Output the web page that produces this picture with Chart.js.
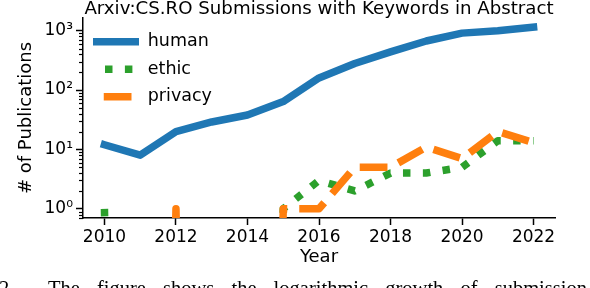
<!DOCTYPE html>
<html>
<head>
<meta charset="utf-8">
<script src="https://cdn.jsdelivr.net/npm/chart.js@4.4.1/dist/chart.umd.min.js"></script>
<style>
  body { margin: 0; background: #fff; }
  #wrap { position: relative; width: 590px; height: 288px; overflow: hidden; }
  .caption {
    position: absolute; top: 278px; white-space: nowrap;
    font-family: "Liberation Serif", serif; font-size: 20.5px; line-height: 20px;
    word-spacing: 12px; color: #000;
  }
</style>
</head>
<body>
<div id="wrap">
  <canvas id="mycanvas" width="590" height="288"></canvas>
  <div class="caption" style="left:-1px">2.</div>
  <div class="caption" style="left:48px">The figure shows the logarithmic growth of submission</div>
</div>
<script>
var years = [2010, 2011, 2012, 2013, 2014, 2015, 2016, 2017, 2018, 2019, 2020, 2021, 2022];
var human = [12, 8, 20, 29, 38, 64, 160, 280, 440, 670, 910, 1000, 1150];
var ethic = [1, 0, 0, 0, 0, 1, 3, 2, 4, 4, 5, 14, 14];
var privacy = [0, 0, 1, 0, 0, 1, 1, 5, 5, 11, 7, 20, 13];

var xTicks = [2010, 2012, 2014, 2016, 2018, 2020, 2022];
var yTicks = [1, 10, 100, 1000];
var yTickLabels = ['10⁰', '10¹', '10²', '10³'];

var font = 'DejaVu Sans';

// where the dash pattern stands at the first point of each non-zero run (px)
var ethicPhase = [0, 4];
var privacyPhase = [13.9, 23.75];
// offsets so the legend dashes sit like the original
var legendDashOffsets = [0, 7.9, 29];

// zero counts: push them far below the axis like matplotlib's log clipping
function toPoints(values) {
  var pts = [];
  for (var i in values) {
    pts.push({x: years[i], y: values[i] > 0 ? values[i] : 1e-30});
  }
  return pts;
}

// dash offset per run, so the phase at the run's first point is phases[k]
function dashOffsets(values, phases, period) {
  var runs = [];
  for (var i = 0; i < values.length; i++) {
    if (values[i] > 0 && (i === 0 || values[i - 1] === 0)) runs.push(i);
  }
  return function(ctx) {
    var pts = ctx.chart.getDatasetMeta(ctx.datasetIndex).data;
    var k = 0;
    for (var j = 0; j < runs.length; j++) {
      if (ctx.p0DataIndex >= runs[j] - 1) k = j;
    }
    var start = k === 0 ? 0 : runs[k] - 1;
    var len = 0;
    for (var n = start; n < runs[k]; n++) {
      len += Math.hypot(pts[n + 1].x - pts[n].x, pts[n + 1].y - pts[n].y);
    }
    return ((phases[k] - len) % period + period) % period;
  };
}

// small minor ticks on the log axis
var minorTicks = {
  id: 'minorTicks',
  afterDraw: function(chart) {
    var y = chart.scales.y;
    var ctx = chart.ctx;
    var left = chart.chartArea.left;
    ctx.save();
    ctx.strokeStyle = '#000';
    ctx.lineWidth = 1.2;
    for (var e = -1; e <= 3; e++) {
      for (var s = 2; s <= 9; s++) {
        var v = s * Math.pow(10, e);
        if (v < y.min || v > y.max) continue;
        var py = Math.round(y.getPixelForValue(v)) + 0.5;
        ctx.beginPath();
        ctx.moveTo(left - 4, py);
        ctx.lineTo(left, py);
        ctx.stroke();
      }
    }
    ctx.restore();
  }
};

var ctx = document.getElementById('mycanvas');

var lineGraph = new Chart(ctx, {
  type: 'line',
  data: {
    datasets: [
      {
        label: 'human',
        data: toPoints(human),
        borderColor: '#1f77b4',
        backgroundColor: '#1f77b4',
        borderWidth: 7.5,
        borderCapStyle: 'square',
        borderJoinStyle: 'round',
        pointRadius: 0,
        order: 3,
        clip: 0
      },
      {
        label: 'ethic',
        data: toPoints(ethic),
        borderColor: '#2ca02c',
        backgroundColor: '#2ca02c',
        borderWidth: 7.5,
        borderDash: [7.5, 12.4],
        borderJoinStyle: 'round',
        segment: { borderDashOffset: dashOffsets(ethic, ethicPhase, 19.9) },
        pointRadius: 0,
        order: 2,
        clip: 0
      },
      {
        label: 'privacy',
        data: toPoints(privacy),
        borderColor: '#ff7f0e',
        backgroundColor: '#ff7f0e',
        borderWidth: 7.5,
        borderDash: [27.75, 12],
        borderJoinStyle: 'round',
        segment: { borderDashOffset: dashOffsets(privacy, privacyPhase, 39.75) },
        pointRadius: 0,
        order: 1,
        clip: 0
      }
    ]
  },
  options: {
    responsive: false,
    animation: false,
    devicePixelRatio: 1,
    layout: { padding: { left: 0, right: 35, top: 0, bottom: 0 } },
    scales: {
      x: {
        type: 'linear',
        min: 2009.4,
        max: 2022.6,
        afterBuildTicks: function(scale) {
          scale.ticks = xTicks.map(function(v) { return {value: v}; });
        },
        afterFit: function(scale) { scale.height = 70; },
        grid: { drawOnChartArea: false, tickLength: 7, tickWidth: 1.5, tickColor: '#000' },
        border: { color: '#000', width: 1.5 },
        ticks: {
          color: '#000', padding: 2, maxRotation: 0, autoSkip: false,
          font: { family: font, size: 17 },
          callback: function(value) { return String(value); }
        },
        title: {
          display: true, text: 'Year', color: '#000',
          font: { family: font, size: 18 },
          padding: { top: 0, bottom: 20 }
        }
      },
      y: {
        type: 'logarithmic',
        min: 0.714,
        max: 1636,
        afterBuildTicks: function(scale) {
          scale.ticks = yTicks.map(function(v) { return {value: v, major: true}; });
        },
        afterFit: function(scale) { scale.width = 83; },
        grid: { drawOnChartArea: false, tickLength: 7, tickWidth: 1.5, tickColor: '#000' },
        border: { color: '#000', width: 1.5 },
        ticks: {
          color: '#000', padding: 3, autoSkip: false,
          font: { family: font, size: 17 },
          callback: function(value) {
            var i = yTicks.indexOf(value);
            return i >= 0 ? yTickLabels[i] : '';
          }
        },
        title: {
          display: true, text: '# of Publications', color: '#000',
          font: { family: font, size: 18 },
          padding: { top: 16, bottom: 0 }
        }
      }
    },
    plugins: {
      title: {
        display: true,
        text: 'Arxiv:CS.RO Submissions with Keywords in Abstract',
        color: '#000',
        fullSize: false,
        font: { family: font, size: 18.2, weight: 'normal', lineHeight: 1 },
        padding: { top: 0, bottom: -0.2 }
      },
      legend: {
        position: 'chartArea',
        align: 'start',
        // empty title only to push the entries down into the plot
        title: { display: true, text: '', font: { size: 5, lineHeight: 1 }, padding: { top: 18, bottom: 0 } },
        labels: {
          usePointStyle: true,
          pointStyleWidth: 46,
          padding: 10,
          color: '#000',
          font: { family: font, size: 17.5 },
          generateLabels: function(chart) {
            return chart.data.datasets.map(function(ds, i) {
              return {
                text: ds.label,
                fontColor: '#000',
                fillStyle: ds.borderColor,
                strokeStyle: ds.borderColor,
                lineWidth: ds.borderWidth,
                lineDash: ds.borderDash || [],
                lineDashOffset: legendDashOffsets[i],
                lineCap: 'butt',
                pointStyle: 'line',
                hidden: false,
                datasetIndex: i
              };
            });
          }
        }
      },
      tooltip: { enabled: false }
    }
  },
  plugins: [minorTicks]
});
</script>
</body>
</html>
